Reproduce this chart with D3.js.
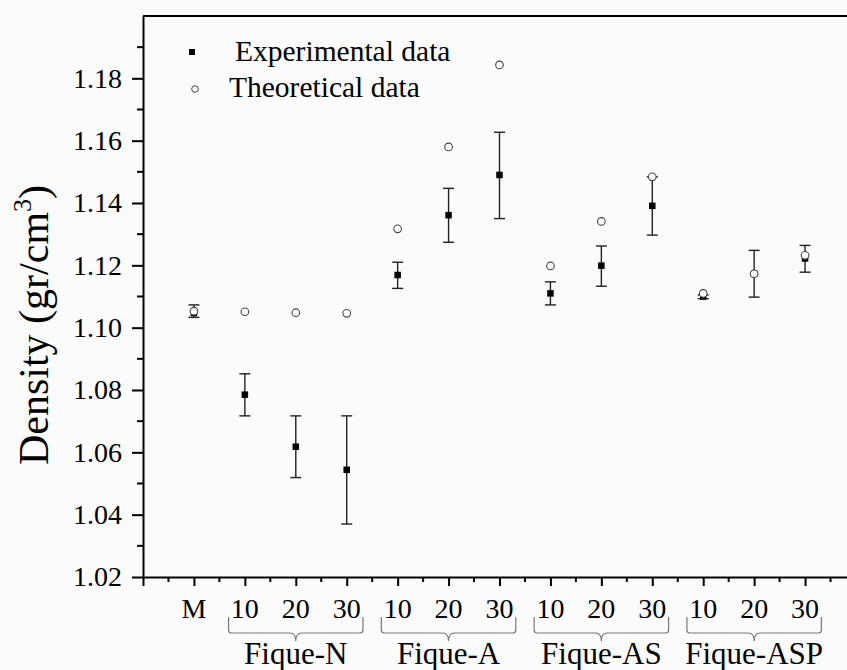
<!DOCTYPE html>
<html>
<head>
<meta charset="utf-8">
<script src="https://cdn.jsdelivr.net/npm/d3@7"></script>
<style>
  body { margin: 0; background: #fbfbfb; }
  svg { display: block; font-family: "Liberation Serif", "Times New Roman", serif; }
</style>
</head>
<body>
<svg id="chart" width="847" height="670"></svg>
<script>
// categories along the x axis (position 1..13)
var tickLabels = ["M", "10", "20", "30", "10", "20", "30", "10", "20", "30", "10", "20", "30"];
var groups = ["Fique-N", "Fique-A", "Fique-AS", "Fique-ASP"];
var groupStart = [2, 5, 8, 11];   // first position of each group
var groupEnd = [4, 7, 10, 13];

// experimental data with error bars
var expValues = [1.1047, 1.0785, 1.0618, 1.0544, 1.1169, 1.1361, 1.1490, 1.1110, 1.1199, 1.1391, 1.1100, 1.1173, 1.1222];
var expLow = [1.1033, 1.0717, 1.0519, 1.0370, 1.1126, 1.1274, 1.1350, 1.1073, 1.1133, 1.1297, 1.1093, 1.1098, 1.1178];
var expHigh = [1.1073, 1.0852, 1.0717, 1.0717, 1.1210, 1.1447, 1.1627, 1.1147, 1.1262, 1.1484, 1.1105, 1.1248, 1.1264];

// theoretical data
var theoValues = [1.1053, 1.1051, 1.1048, 1.1046, 1.1317, 1.1580, 1.1843, 1.1198, 1.1341, 1.1484, 1.1110, 1.1173, 1.1232];

var yMajor = [1.02, 1.04, 1.06, 1.08, 1.10, 1.12, 1.14, 1.16, 1.18];

var ctx = {
    left: 143, top: 16, bottom: 577, right: 856,
    fontSize: 28
};

var svgEl = d3.select("#chart");

var x = d3.scaleLinear().domain([0, 14]).range([ctx.left, ctx.right]);
var y = d3.scaleLinear().domain([1.02, 1.20]).range([ctx.bottom, ctx.top]);

// frame: top border (right side runs off the picture)
svgEl.append("line")
    .attr("x1", ctx.left).attr("x2", 860)
    .attr("y1", ctx.top).attr("y2", ctx.top)
    .attr("stroke", "black").attr("stroke-width", 2);

// y axis
var yAxis = svgEl.append("g")
    .attr("transform", "translate(" + ctx.left + ",0)")
    .call(d3.axisLeft(y).tickValues(yMajor).tickFormat(d3.format(".2f")).tickSize(11).tickSizeOuter(0));
yAxis.select(".domain").attr("stroke-width", 2);
yAxis.selectAll(".tick line").attr("stroke-width", 2);
yAxis.selectAll("text")
    .attr("font-size", ctx.fontSize)
    .attr("font-family", "Liberation Serif")
    .attr("fill", "black")
    .attr("x", -21);

// y minor ticks
var yMinor = d3.range(1.03, 1.20, 0.02);
svgEl.append("g").selectAll("line")
    .data(yMinor)
    .enter()
    .append("line")
    .attr("x1", ctx.left - 6).attr("x2", ctx.left)
    .attr("y1", (d) => y(d)).attr("y2", (d) => y(d))
    .attr("stroke", "black").attr("stroke-width", 2);

// x axis
var xAxis = svgEl.append("g")
    .attr("transform", "translate(0," + ctx.bottom + ")")
    .call(d3.axisBottom(x).tickValues(d3.range(0, 15)).tickFormat("").tickSize(9).tickSizeOuter(0));
xAxis.select(".domain").attr("stroke-width", 2);
xAxis.selectAll(".tick line").attr("stroke-width", 2);

svgEl.append("g").selectAll("line")
    .data(d3.range(0.5, 14, 1))
    .enter()
    .append("line")
    .attr("x1", (d) => x(d)).attr("x2", (d) => x(d))
    .attr("y1", ctx.bottom).attr("y2", ctx.bottom + 5)
    .attr("stroke", "black").attr("stroke-width", 2);

// category labels
svgEl.append("g").selectAll("text")
    .data(tickLabels)
    .enter()
    .append("text")
    .attr("x", (d, i) => x(i + 1))
    .attr("y", 618)
    .attr("text-anchor", "middle")
    .attr("font-size", ctx.fontSize)
    .text((d) => d);

// group braces
var braceTop = 617, braceMid = 633, braceTip = 641;
groups.forEach(function(g, i) {
    var x0 = x(groupStart[i] - 0.32), x1 = x(groupEnd[i] + 0.32), xc = x((groupStart[i] + groupEnd[i]) / 2);
    var p = d3.path();
    p.moveTo(x0, braceTop);
    p.lineTo(x0, braceMid - 3);
    p.quadraticCurveTo(x0, braceMid, x0 + 3, braceMid);
    p.lineTo(xc - 6, braceMid);
    p.quadraticCurveTo(xc, braceMid, xc, braceTip);
    p.quadraticCurveTo(xc, braceMid, xc + 6, braceMid);
    p.lineTo(x1 - 3, braceMid);
    p.quadraticCurveTo(x1, braceMid, x1, braceMid - 3);
    p.lineTo(x1, braceTop);
    svgEl.append("path")
        .attr("d", p.toString())
        .attr("fill", "none")
        .attr("stroke", "#777")
        .attr("stroke-width", 1.2);
    svgEl.append("text")
        .attr("x", xc)
        .attr("y", 664)
        .attr("text-anchor", "middle")
        .attr("font-size", 31)
        .text(g);
});

// y axis title
var yTitle = svgEl.append("text")
    .attr("transform", "translate(48," + 325 + ") rotate(-90)")
    .attr("text-anchor", "middle")
    .attr("font-size", 42);
yTitle.append("tspan").text("Density (gr/cm");
yTitle.append("tspan").attr("font-size", 26).attr("dy", -17).text("3");
yTitle.append("tspan").attr("dy", 17).text(")");

// error bars
var capW = 11;
var errG = svgEl.append("g").attr("stroke", "#222").attr("stroke-width", 1.4);
expValues.forEach(function(v, i) {
    var cx = x(i + 1);
    errG.append("line")
        .attr("x1", cx).attr("x2", cx)
        .attr("y1", y(expLow[i])).attr("y2", y(expHigh[i]));
    errG.append("line")
        .attr("x1", cx - capW / 2).attr("x2", cx + capW / 2)
        .attr("y1", y(expLow[i])).attr("y2", y(expLow[i]));
    errG.append("line")
        .attr("x1", cx - capW / 2).attr("x2", cx + capW / 2)
        .attr("y1", y(expHigh[i])).attr("y2", y(expHigh[i]));
});

// experimental squares
var sq = 6.5;
svgEl.append("g").selectAll("rect")
    .data(expValues)
    .enter()
    .append("rect")
    .attr("x", (d, i) => x(i + 1) - sq / 2)
    .attr("y", (d) => y(d) - sq / 2)
    .attr("width", sq).attr("height", sq)
    .attr("fill", "black");

// theoretical circles
svgEl.append("g").selectAll("circle")
    .data(theoValues)
    .enter()
    .append("circle")
    .attr("cx", (d, i) => x(i + 1))
    .attr("cy", (d) => y(d))
    .attr("r", 3.8)
    .attr("fill", "white")
    .attr("stroke", "#444")
    .attr("stroke-width", 1.1);

// legend
var legend = svgEl.append("g");
legend.append("rect")
    .attr("x", 189).attr("y", 49).attr("width", 6).attr("height", 6)
    .attr("fill", "black");
legend.append("text")
    .attr("x", 235).attr("y", 61)
    .attr("font-size", 29.5)
    .text("Experimental data");
legend.append("circle")
    .attr("cx", 195).attr("cy", 89).attr("r", 3.3)
    .attr("fill", "white").attr("stroke", "#444").attr("stroke-width", 1);
legend.append("text")
    .attr("x", 229).attr("y", 97)
    .attr("font-size", 29.5)
    .text("Theoretical data");
</script>
</body>
</html>
